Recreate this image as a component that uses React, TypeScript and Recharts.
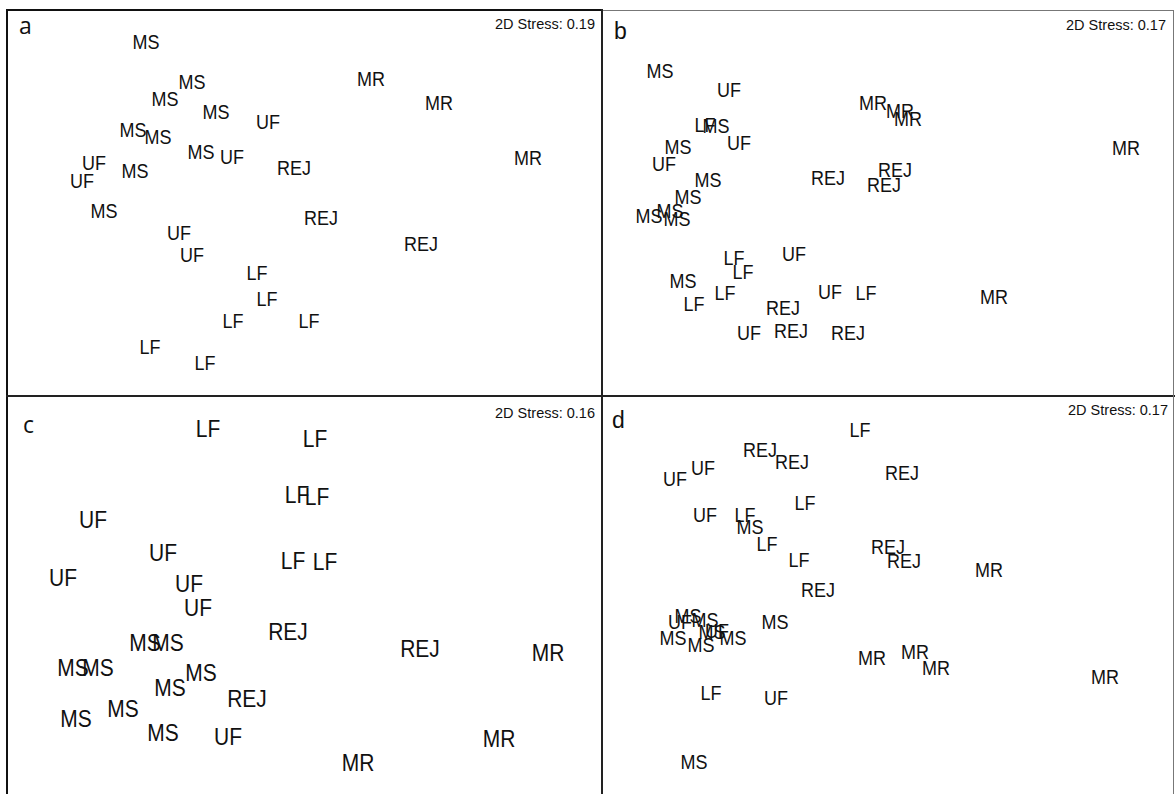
import { ScatterChart, Scatter, XAxis, YAxis } from 'recharts';

// NMDS site scores per panel (panel-local units), label = habitat group
type Site = [string, number, number];

const PANEL_A: Site[] = [
  ['MS', 138, 32], ['MS', 184, 72], ['MR', 363, 69], ['MR', 431, 93], ['MS', 157, 89],
  ['MS', 208, 102], ['UF', 260, 112], ['MS', 125, 120], ['MS', 150, 127], ['MS', 193, 142],
  ['UF', 224, 147], ['MR', 520, 148], ['UF', 86, 153], ['UF', 74, 171], ['MS', 127, 161],
  ['REJ', 286, 158], ['MS', 96, 201], ['REJ', 313, 208], ['UF', 171, 223], ['UF', 184, 245],
  ['REJ', 413, 234], ['LF', 249, 263], ['LF', 259, 289], ['LF', 225, 311], ['LF', 301, 311],
  ['LF', 142, 337], ['LF', 197, 353],
];

const PANEL_B: Site[] = [
  ['MS', 57, 61], ['UF', 126, 80], ['MR', 270, 93], ['MR', 297, 101], ['MR', 305, 109],
  ['LF', 102, 115], ['MS', 113, 116], ['UF', 136, 133], ['MS', 75, 137], ['MR', 523, 138],
  ['UF', 61, 154], ['REJ', 292, 160], ['REJ', 225, 168], ['REJ', 281, 175], ['MS', 105, 170],
  ['MS', 85, 187], ['MS', 46, 206], ['MS', 67, 201], ['MS', 74, 209], ['UF', 191, 244],
  ['LF', 131, 248], ['LF', 140, 262], ['MS', 80, 271], ['LF', 122, 283], ['UF', 227, 282],
  ['LF', 263, 283], ['MR', 391, 287], ['LF', 91, 294], ['REJ', 180, 298], ['UF', 146, 323],
  ['REJ', 188, 321], ['REJ', 245, 323],
];

const PANEL_C: Site[] = [
  ['LF', 200, 33], ['LF', 307, 43], ['LF', 289, 99], ['LF', 309, 101], ['UF', 85, 124],
  ['UF', 155, 157], ['LF', 285, 165], ['LF', 317, 166], ['UF', 55, 182], ['UF', 181, 188],
  ['UF', 190, 212], ['REJ', 280, 236], ['MS', 137, 247], ['MS', 160, 247], ['REJ', 412, 253],
  ['MR', 540, 257], ['MS', 65, 272], ['MS', 90, 272], ['MS', 193, 277], ['MS', 162, 292],
  ['REJ', 239, 303], ['MS', 115, 313], ['MS', 68, 323], ['MS', 155, 337], ['UF', 220, 341],
  ['MR', 491, 343], ['MR', 350, 367],
];

const PANEL_D: Site[] = [
  ['LF', 257, 34], ['REJ', 157, 54], ['REJ', 189, 66], ['UF', 100, 72], ['UF', 72, 83],
  ['REJ', 299, 77], ['LF', 202, 107], ['UF', 102, 119], ['LF', 142, 119], ['MS', 147, 131],
  ['LF', 164, 148], ['REJ', 285, 151], ['REJ', 301, 165], ['LF', 196, 164], ['MR', 386, 174],
  ['REJ', 215, 194], ['MS', 172, 226], ['UF', 77, 226], ['MS', 85, 220], ['MS', 102, 224],
  ['MS', 70, 242], ['MS', 98, 249], ['MS', 109, 236], ['UF', 114, 235], ['MS', 130, 242],
  ['MR', 269, 262], ['MR', 312, 256], ['MR', 333, 272], ['MR', 502, 281], ['LF', 108, 297],
  ['UF', 173, 302], ['MS', 91, 366],
];

const STRESS = ['0.19', '0.17', '0.16', '0.17'];
const LETTERS = ['a', 'b', 'c', 'd'];

const ARIAL = "'Liberation Sans', Arial, sans-serif";

type PanelProps = {
  sites: Site[];
  left: number;
  top: number;
  width: number;
  height: number;
  letter: string;
  letterFont: string;
  letterPos: [number, number];
  stress: string;
  stressPos: [number, number];
  fontSize: number;
};

function Panel(p: PanelProps) {
  const data = p.sites.map(([site, x, y]) => ({ site, x, y }));
  const fs = p.fontSize;
  return (
    <div style={{ position: 'absolute', left: p.left, top: p.top, width: p.width, height: p.height }}>
      <ScatterChart width={p.width} height={p.height} margin={{ top: 0, right: 0, bottom: 0, left: 0 }}>
        <XAxis type="number" dataKey="x" domain={[0, p.width]} hide />
        <YAxis type="number" dataKey="y" domain={[0, p.height]} reversed hide />
        <Scatter
          data={data}
          isAnimationActive={false}
          shape={(props: any) => (
            <text
              transform={`translate(${props.cx},${props.cy}) scale(1,1.12)`}
              x={0}
              y={0}
              dy={fs * 0.36}
              textAnchor="middle"
              fontFamily={ARIAL}
              fontSize={fs}
              fill="#111"
            >
              {props.payload.site}
            </text>
          )}
        />
      </ScatterChart>
      <svg width={p.width} height={p.height} style={{ position: 'absolute', left: 0, top: 0, pointerEvents: 'none' }}>
        <text x={p.letterPos[0]} y={p.letterPos[1]} fontFamily={p.letterFont} fontSize={23} fill="#111">
          {p.letter}
        </text>
        <text
          x={p.width - p.stressPos[0]}
          y={p.stressPos[1]}
          textAnchor="end"
          fontFamily={ARIAL}
          fontSize={14.5}
          fill="#111"
        >
          2D Stress: {p.stress}
        </text>
      </svg>
    </div>
  );
}

const line = (left: number, top: number, width: number, height: number, color: string) => (
  <div style={{ position: 'absolute', left, top, width, height, background: color }} />
);

export default function App() {
  return (
    <div style={{ position: 'absolute', left: 0, top: 0, width: 1176, height: 794, background: '#fff', overflow: 'hidden' }}>
      <Panel sites={PANEL_A} left={8} top={10} width={594} height={386} letter={LETTERS[0]}
        letterFont="'Open Sans', sans-serif" letterPos={[11, 24]} stress={STRESS[0]} stressPos={[7, 19]} fontSize={18} />
      <Panel sites={PANEL_B} left={603} top={10} width={571} height={386} letter={LETTERS[1]}
        letterFont={ARIAL} letterPos={[11, 29]} stress={STRESS[1]} stressPos={[8, 20]} fontSize={18} />
      <Panel sites={PANEL_C} left={8} top={396} width={594} height={398} letter={LETTERS[2]}
        letterFont="'Open Sans', sans-serif" letterPos={[15, 37]} stress={STRESS[2]} stressPos={[7, 22]} fontSize={21} />
      <Panel sites={PANEL_D} left={603} top={396} width={571} height={398} letter={LETTERS[3]}
        letterFont={ARIAL} letterPos={[9, 32]} stress={STRESS[3]} stressPos={[6, 19]} fontSize={18} />
      {/* panel frames */}
      {line(6, 9, 597, 2, '#111')}
      {line(6, 9, 2, 785, '#111')}
      {line(601, 9, 2, 785, '#222')}
      {line(6, 395, 1169, 2, '#222')}
      {line(603, 10, 571, 1, '#777')}
      {line(1173, 10, 1, 784, '#777')}
    </div>
  );
}
